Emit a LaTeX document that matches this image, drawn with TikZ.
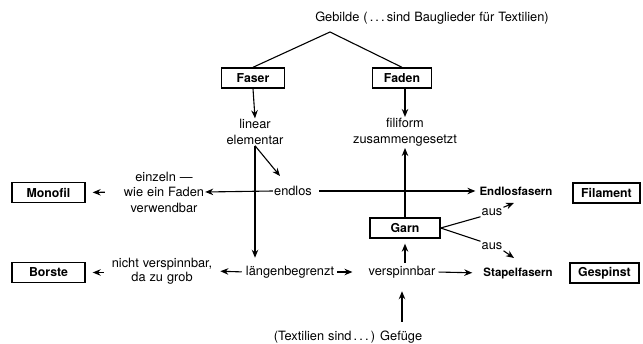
\documentclass[tikz,border=0pt]{standalone}
\usepackage{fontspec}
\setmainfont{TeX Gyre Heros}
\usetikzlibrary{arrows.meta}
\newcommand{\widesp}{\spaceskip=0.31em plus 0.1em\relax}
\begin{document}
\begin{tikzpicture}[x=1pt,y=-1pt,
  lbl/.style={font=\fontsize{12.8}{15.5}\selectfont\widesp, inner sep=1pt, align=center},
  blbl/.style={font=\fontsize{11.5}{13}\selectfont\bfseries, inner sep=1pt},
  bx/.style={draw, line width=1.4pt, font=\fontsize{12.3}{14}\selectfont\bfseries, inner sep=0pt, minimum height=20pt},
  ln/.style={line width=1.1pt},
  arr/.style={ln, -{Stealth[length=8pt,width=6.5pt]}}]
\useasboundingbox (0,0) rectangle (643,344);
% nodes
\node[lbl] (gebilde) at (432,18) {Gebilde (\,.\,.\,.\,sind Bauglieder für Textilien)};
\coordinate (apex) at (330,32);
\node[bx, minimum width=63pt] (faser) at (253,78) {Faser};
\node[bx, minimum width=59pt] (faden) at (402,78) {Faden};
\node[lbl] (linear) at (255,132) {linear\\elementar};
\node[lbl] (filiform) at (405,132) {filiform\\zusammengesetzt};
\node[lbl] (endlos) at (293,191) {endlos};
\coordinate (dtip) at (280,176);
\node[lbl] (einzeln) at (164,192) {einzeln ---\\wie ein Faden\\verwendbar};
\node[bx, minimum width=73pt] (monofil) at (48.5,192.5) {Monofil};
\node[blbl] (endlosf) at (516,191) {Endlosfasern};
\node[bx, minimum width=67pt] (filament) at (606.5,193) {Filament};
\node[bx, minimum width=70pt] (garn) at (405,228) {Garn};
\node[lbl] (aus1) at (492,212) {aus};
\node[lbl] (aus2) at (492,246) {aus};
\coordinate (e1tip) at (514,203);
\coordinate (e2tip) at (514,258);
\node[bx, minimum width=73pt] (borste) at (48.5,272.5) {Borste};
\node[lbl, font=\fontsize{12.8}{14}\selectfont\widesp] (nicht) at (162,271) {nicht verspinnbar,\\da zu grob};
\node[lbl] (laengen) at (290,272) {längenbegrenzt};
\node[lbl] (versp) at (402,272) {verspinnbar};
\node[blbl] (stapel) at (518,273) {Stapelfasern};
\node[bx, minimum width=69pt] (gespinst) at (604.5,273) {Gespinst};
\node[lbl] (gefuege) at (348,337) {(Textilien sind\,.\,.\,.\,) Gefüge};
% connectors
\draw[ln] (faser.north) -- (apex) -- (faden.north);
\draw[arr] (faser.south) -- (linear.north);
\draw[arr] (faden.south -| filiform) -- (filiform.north);
\draw[arr] (linear.south) -- (dtip);
\draw[arr, shorten >=7pt] (linear.south) -- (linear.south |- laengen.north);
\draw[arr] (endlos.west) -- (einzeln.east);
\draw[arr, shorten <=18pt, shorten >=7pt] (einzeln.west) -- (monofil.east);
\draw[arr, shorten <=6pt, shorten >=3pt] (endlos.east) -- (endlosf.west);
\draw[arr, shorten >=1pt] (garn.north) -- (filiform.south);
\draw[ln] (garn.east) -- (aus1.south west);
\draw[arr] (aus1.north east) -- (e1tip);
\draw[ln] (garn.east) -- (aus2.north west);
\draw[arr] (aus2.south east) -- (e2tip);
\draw[arr, shorten <=3pt, shorten >=7pt] (laengen.west) -- (nicht.east);
\draw[arr, shorten <=7pt, shorten >=7pt] (nicht.west |- borste) -- (borste.east);
\draw[arr, shorten <=2pt, shorten >=15pt] (laengen.east) -- (versp.west);
\draw[arr, shorten <=2pt, shorten >=10pt] (versp.east) -- (stapel.west);
\draw[arr, shorten <=2pt, shorten >=5pt] (garn.south |- versp.north) -- (garn.south);
\draw[arr, shorten <=8pt, shorten >=12pt] (versp.south |- gefuege.north) -- (versp.south);
\end{tikzpicture}
\end{document}
